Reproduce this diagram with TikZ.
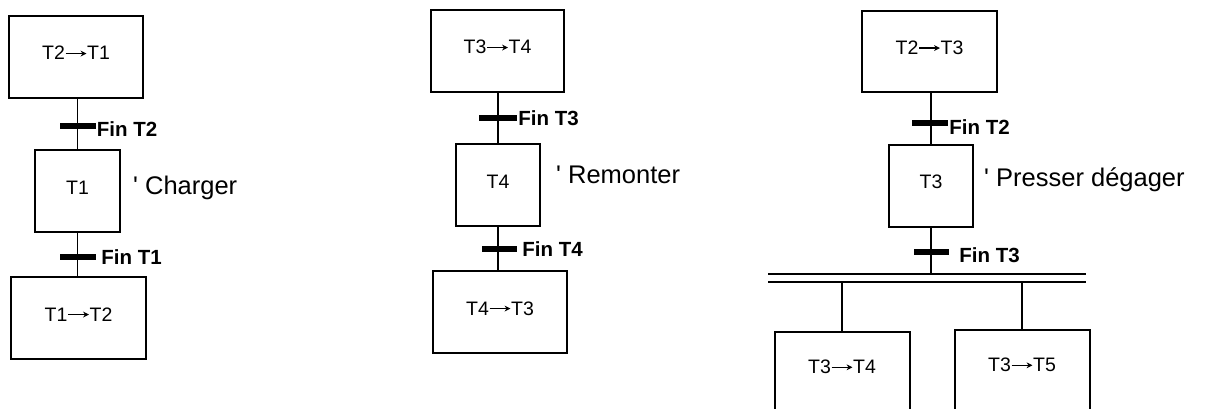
\documentclass[tikz,border=0pt]{standalone}
\usepackage{fontspec}
\setmainfont{Liberation Sans}
\usetikzlibrary{arrows.meta}
\newcommand\tarr{\tikz[baseline=0pt]\draw[line width=0.07em,-{Stealth[length=0.3em,width=0.3em]}] (0.08em,0.33em) -- (1.15em,0.33em);}
\begin{document}
\begin{tikzpicture}[x=1pt,y=-1pt,
  stepbox/.style={draw, line width=2pt, inner sep=0pt, text height=14pt, text depth=8pt, font=\fontsize{19.5}{21}\selectfont},
  link/.style={line width=1.7pt},
  trans/.style={fill=black, inner sep=0pt, minimum height=5.5pt},
  cond/.style={anchor=west, inner sep=1pt, font=\fontsize{20.5}{22}\selectfont\bfseries},
  act/.style={anchor=west, inner sep=0pt, font=\fontsize{25.5}{28}\selectfont},
  lbl/.style={font=\fontsize{19.5}{21}\selectfont}]
\useasboundingbox (0,0) rectangle (1213,409);
% ---- left chart
\node[stepbox, minimum width=134pt, minimum height=82pt] (a1) at (76,57) {T2\tarr T1};
\node[stepbox, minimum width=85pt, minimum height=82pt] (a2) at (77.5,191) {T1};
\node[stepbox, minimum width=135pt, minimum height=82pt] (a3) at (78.5,318) {T1\tarr T2};
\draw[link] (a2.north |- a1.south) -- (a2.north);
\draw[link] (a2.south) -- (a2.south |- a3.north);
\node[trans, minimum width=36pt] (ta1) at (77.5,126) {};
\node[trans, minimum width=36pt] (ta2) at (78,257) {};
\node[cond] (ca1) at ([yshift=-3pt]ta1.east) {Fin T2};
\node[cond] (ca2) at ([xshift=4pt]ta2.east) {Fin T1};
\node[act] (aa) at (133,188) {\textquotesingle\ Charger};
% ---- middle chart
\node[stepbox, minimum width=133pt, minimum height=82pt] (b1) at (497.5,51) {T3\tarr T4};
\node[stepbox, minimum width=84pt, minimum height=82pt] (b2) at (498,185) {T4};
\node[stepbox, minimum width=134pt, minimum height=82pt] (b3) at (500,312) {T4\tarr T3};
\draw[link] (b2.north |- b1.south) -- (b2.north);
\draw[link] (b2.south) -- (b2.south |- b3.north);
\node[trans, minimum width=38pt] (tb1) at (498,118) {};
\node[trans, minimum width=35pt] (tb2) at (499.5,249) {};
\node[cond] (cb1) at (tb1.east) {Fin T3};
\node[cond] (cb2) at ([xshift=4pt]tb2.east) {Fin T4};
\node[act] (ab) at (556,175) {\textquotesingle\ Remonter};
% ---- right chart
\node[stepbox, minimum width=135pt, minimum height=81pt] (c1) at (929.5,51.5) {T2\tarr T3};
\node[stepbox, minimum width=84pt, minimum height=82pt] (c2) at (931,186) {T3};
\draw[link] (c2.north |- c1.south) -- (c2.north);
\coordinate (d1) at (931,274);
\coordinate (dL1) at (768,274);
\coordinate (dR1) at (1086,274);
\coordinate (dL2) at (768,282);
\coordinate (dR2) at (1086,282);
\draw[link] (c2.south) -- (d1);
\node[trans, minimum width=36pt] (tc1) at (930,123) {};
\node[trans, minimum width=35pt] (tc2) at (931.5,252) {};
\node[cond] (cc1) at ([yshift=-4pt]tc1.east) {Fin T2};
\node[cond] (cc2) at ([xshift=9pt,yshift=-3pt]tc2.east) {Fin T3};
\node[act] (ac) at (984,180) {\textquotesingle\ Presser dégager};
\draw[link] (dL1) -- (dR1);
\draw[link] (dL2) -- (dR2);
\coordinate (e1) at (842,282);
\coordinate (e2) at (1022,282);
\node[lbl] (c3) at (842,367) {T3\tarr T4};
\node[lbl] (c4) at (1022,365) {T3\tarr T5};
\draw[line width=2pt] (775,412) -- (775,332) -- (910,332) -- (910,412);
\draw[line width=2pt] (955,412) -- (955,330) -- (1090,330) -- (1090,412);
\draw[link] (e1) -- (842,332);
\draw[link] (e2) -- (1022,330);
\end{tikzpicture}
\end{document}
